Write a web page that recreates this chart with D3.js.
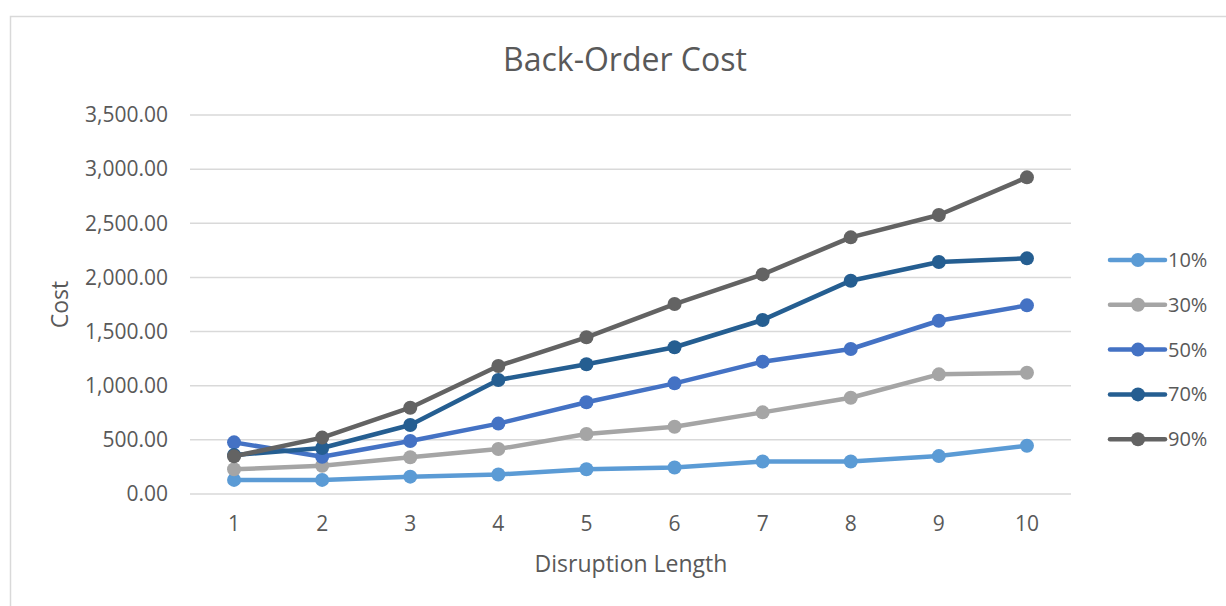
<!DOCTYPE html>
<html>
<head>
<meta charset="utf-8">
<script src="https://cdn.jsdelivr.net/npm/d3@7"></script>
<style>
  html, body { margin: 0; padding: 0; background: #fff; }
  svg { display: block; font-family: "Open Sans", "Noto Sans", sans-serif; }
</style>
</head>
<body>
<svg id="chart" width="1226" height="606"></svg>
<script>
// Disruption length categories
const categories = [1, 2, 3, 4, 5, 6, 7, 8, 9, 10];

// Back-order cost per disruption level
const seriesNames = ["10%", "30%", "50%", "70%", "90%"];
const cost10 = [130, 130, 160, 180, 228, 245, 300, 300, 350, 445];
const cost30 = [228, 261, 339, 415, 554, 621, 754, 889, 1105, 1120];
const cost50 = [477, 344, 489, 650, 847, 1022, 1222, 1339, 1600, 1742];
const cost70 = [360, 425, 637, 1053, 1198, 1355, 1607, 1970, 2142, 2176];
const cost90 = [348, 521, 797, 1182, 1447, 1754, 2028, 2370, 2576, 2924];
const seriesColors = ["#5B9BD5", "#A5A5A5", "#4472C4", "#255E91", "#636363"];

const yTicks = [0, 500, 1000, 1500, 2000, 2500, 3000, 3500];

const series = seriesNames.map((name, i) => ({
  name,
  color: seriesColors[i],
  values: [cost10, cost30, cost50, cost70, cost90][i]
}));

const svg = d3.select("#chart");
const textColor = "#595959";

// Chart frame
svg.append("path")
  .attr("d", "M10.5,606 V16.5 H1226")
  .attr("fill", "none")
  .attr("stroke", "#d9d9d9")
  .attr("stroke-width", 1.5);

const plot = { left: 190, right: 1071, top: 115, bottom: 494 };

const x = d3.scaleBand()
  .domain(categories)
  .range([plot.left, plot.right]);

const y = d3.scaleLinear()
  .domain([0, 3500])
  .range([plot.bottom, plot.top]);

// Horizontal gridlines
svg.append("g")
  .selectAll("line")
  .data(yTicks)
  .join("line")
  .attr("x1", plot.left)
  .attr("x2", plot.right)
  .attr("y1", d => y(d))
  .attr("y2", d => y(d))
  .attr("stroke", "#d9d9d9")
  .attr("stroke-width", 1.5);

// Y axis labels
const fmt = d3.format(",.2f");
const yAxis = svg.append("g")
  .attr("transform", `translate(${plot.left - 22},0)`)
  .call(d3.axisLeft(y).tickValues(yTicks).tickFormat(fmt).tickSize(0).tickPadding(0));
yAxis.select(".domain").remove();
yAxis.selectAll("text")
  .attr("fill", textColor)
  .attr("font-size", 21)
  .attr("font-family", "Open Sans, sans-serif");

// X axis labels
const xAxis = svg.append("g")
  .attr("transform", `translate(0,${plot.bottom})`)
  .call(d3.axisBottom(x).tickSize(0).tickPadding(22));
xAxis.select(".domain").remove();
xAxis.selectAll("text")
  .attr("fill", textColor)
  .attr("font-size", 21)
  .attr("font-family", "Open Sans, sans-serif");

// Title
svg.append("text")
  .attr("x", 625)
  .attr("y", 71)
  .attr("text-anchor", "middle")
  .attr("fill", textColor)
  .attr("font-size", 32)
  .text("Back-Order Cost");

// Axis titles
svg.append("text")
  .attr("x", 631)
  .attr("y", 572)
  .attr("text-anchor", "middle")
  .attr("fill", textColor)
  .attr("font-size", 23)
  .text("Disruption Length");

svg.append("text")
  .attr("transform", `translate(68,${(plot.top + plot.bottom) / 2}) rotate(-90)`)
  .attr("text-anchor", "middle")
  .attr("fill", textColor)
  .attr("font-size", 23)
  .text("Cost");

// Series lines and markers
const cx = d => x(d) + x.bandwidth() / 2;
const line = d3.line()
  .x((d, i) => cx(categories[i]))
  .y(d => y(d));

const g = svg.append("g");
series.forEach(s => {
  const sg = g.append("g");
  sg.append("path")
    .datum(s.values)
    .attr("d", line)
    .attr("fill", "none")
    .attr("stroke", s.color)
    .attr("stroke-width", 4.5)
    .attr("stroke-linejoin", "round")
    .attr("stroke-linecap", "round");
  sg.selectAll("circle")
    .data(s.values)
    .join("circle")
    .attr("cx", (d, i) => cx(categories[i]))
    .attr("cy", d => y(d))
    .attr("r", 7)
    .attr("fill", s.color);
});

// Legend
const legend = svg.append("g");
const legendItems = legend.selectAll("g")
  .data(series)
  .join("g")
  .attr("transform", (d, i) => `translate(1110,${260 + i * 44.8})`);
legendItems.append("line")
  .attr("x1", 0).attr("x2", 55)
  .attr("stroke", d => d.color)
  .attr("stroke-width", 4.5)
  .attr("stroke-linecap", "round");
legendItems.append("circle")
  .attr("cx", 28).attr("r", 7)
  .attr("fill", d => d.color);
legendItems.append("text")
  .attr("x", 58)
  .attr("dy", "0.35em")
  .attr("fill", textColor)
  .attr("font-size", 20)
  .text(d => d.name);
</script>
</body>
</html>
